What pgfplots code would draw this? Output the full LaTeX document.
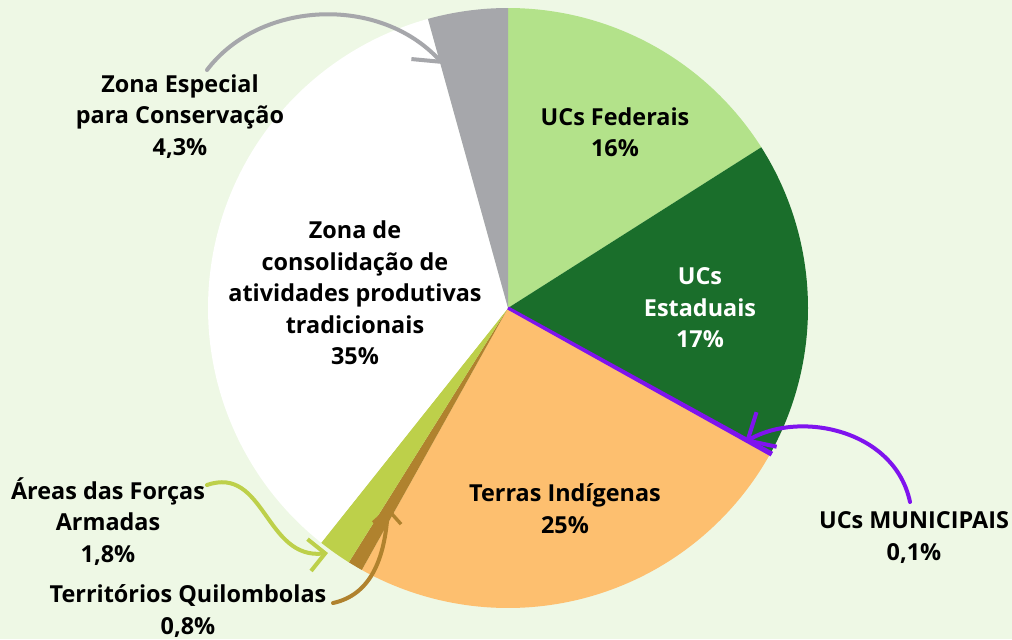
\documentclass[border=0pt]{standalone}
\usepackage{pgfplots}
\usepackage{pgfplotstable}
\pgfplotsset{compat=1.18}
\usetikzlibrary{arrows.meta}
\usepackage{fontspec}
\setmainfont{Open Sans}
\definecolor{bg}{HTML}{EEF8E5}
\definecolor{cFed}{HTML}{B3E28A}
\definecolor{cEst}{HTML}{1A6E2B}
\definecolor{cMun}{HTML}{7F13EE}
\definecolor{cTer}{HTML}{FDBF6F}
\definecolor{cQui}{HTML}{B0822E}
\definecolor{cFor}{HTML}{BDD04A}
\definecolor{cCon}{HTML}{FFFFFF}
\definecolor{cEsp}{HTML}{A6A7AB}

\pgfplotstableread{
name pct
Federais 16
Estaduais 17
Municipais 0.1
Terras 25
Quilombolas 0.8
Forcas 1.8
Consolidacao 35
Especial 4.3
}\piedata

\newcommand\setangles{%
  \gdef\cumsum{0}%
  \pgfplotsforeachungrouped \i in {0,...,7}{%
    \pgfplotstablegetelem{\i}{pct}\of\piedata
    \pgfmathsetmacro\startang{90-3.6*\cumsum}%
    \pgfmathsetmacro\newsum{\cumsum+\pgfplotsretval}%
    \xdef\cumsum{\newsum}%
    \pgfmathsetmacro\endang{90-3.6*\cumsum}%
    \expandafter\xdef\csname sa\i\endcsname{\startang}%
    \expandafter\xdef\csname ea\i\endcsname{\endang}%
  }%
}
\newcommand\pieslice[2]{%
  \edef\wa{\csname ea#1\endcsname}%
  \edef\wb{\csname sa#1\endcsname}%
  \addplot[#2, mark=none, domain=\wa:\wb, samples=120, variable=\t]
    ({cos(\t)},{sin(\t)}) -- (axis cs:0,0) -- cycle;
}

\begin{document}
\setangles
\begin{tikzpicture}[x=0.5pt,y=0.5pt]
\fill[bg] (0,0) rectangle (1012,639);
\begin{axis}[
  at={(254pt,165.5pt)}, anchor=center,
  scale only axis, width=300pt, height=300pt,
  xmin=-1, xmax=1, ymin=-1, ymax=1,
  hide axis, clip=false,
]
\pieslice{0}{fill=cFed, draw=none}
\pieslice{1}{fill=cEst, draw=none}
\pieslice{3}{fill=cTer, draw=none}
\pieslice{4}{fill=cQui, draw=none}
\pieslice{5}{fill=cFor, draw=none}
\pieslice{6}{fill=cCon, draw=none}
\pieslice{7}{fill=cEsp, draw=none}
\pieslice{2}{fill=cMun, draw=cMun, line width=1.6pt}
\end{axis}

% arrows
\begin{scope}[line width=2pt, line cap=round]
\draw[cEsp, -{Straight Barb[length=11pt, width=20pt, line width=2pt]}]
  (207,569) .. controls (260,639) and (380,644) .. (443,575);
\draw[cMun, -{Straight Barb[length=11pt, width=20pt, line width=2pt]}]
  (910,137) .. controls (895,209) and (800,229) .. (745,197);
\draw[cFor, -{Straight Barb[length=8pt, width=16pt, line width=2pt]}]
  (207,154) .. controls (265,174) and (265,79) .. (328,86);
\draw[cQui, -{Straight Barb[length=7pt, width=14pt, line width=1.7pt]}]
  (333,36) .. controls (370,44) and (385,79) .. (388,132);
\end{scope}

% labels
\begin{scope}[every node/.style={align=center, inner sep=0pt,
   font=\fontsize{11.7}{15.75}\selectfont\bfseries}]
\node at (180,522.5) {Zona Especial\\para Conservação\\4,3\%};
\node at (615,507) {UCs Federais\\16\%};
\node[text=white] at (700,331) {UCs\\Estaduais\\17\%};
\node at (355,346) {Zona de\\consolidação de\\atividades produtivas\\tradicionais\\35\%};
\node at (565,130.5) {Terras Indígenas\\25\%};
\node at (914,101.5) {UCs MUNICIPAIS\\0,1\%};
\node at (108,117.5) {Áreas das Forças\\Armadas\\1,8\%};
\node at (188,28) {Territórios Quilombolas\\0,8\%};
\end{scope}
\pgfresetboundingbox
\useasboundingbox (0,0) rectangle (1012,639);
\end{tikzpicture}
\end{document}
